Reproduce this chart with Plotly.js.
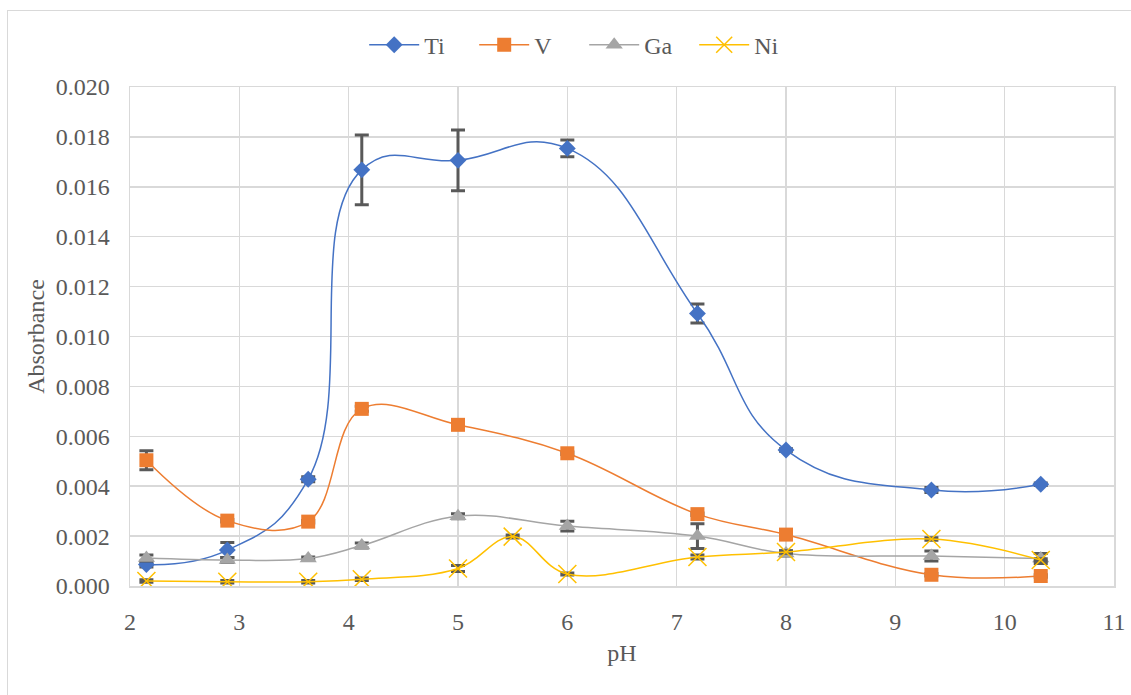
<!DOCTYPE html>
<html>
<head>
<meta charset="utf-8">
<script src="https://cdn.plot.ly/plotly-3.0.1.min.js"></script>
<style>
  html, body { margin: 0; padding: 0; background: #ffffff; overflow: hidden; }
  #wrap { position: relative; width: 1131px; height: 695px; overflow: hidden; }
  #chart { position: absolute; left: 0; top: 0; width: 1131px; height: 695px; }
  #frame { position: absolute; left: 7px; top: 10px; width: 1200px; height: 800px;
           border: 1.5px solid #d9d9d9; box-sizing: border-box; pointer-events: none; }
  svg text { font-family: 'Liberation Serif', 'Times New Roman', serif !important; }
</style>
</head>
<body>
<div id="wrap">
  <div id="chart"></div>
  <div id="frame"></div>
</div>
<script>
// ---- data ----
const tiPH  = [2.15, 2.89, 3.63, 4.12, 5.0, 6.0, 7.19, 8.0, 9.33, 10.33];
const tiAbs = [0.00086, 0.00144, 0.00428, 0.01668, 0.01706, 0.01754, 0.01092, 0.00545, 0.00385, 0.00408];
const tiErr = [0.0001, 0.0003, 0.0001, 0.0014, 0.00122, 0.00034, 0.00038, 0.00005, 0.0001, 0.00005];

const vPH  = [2.15, 2.89, 3.63, 4.12, 5.0, 6.0, 7.19, 8.0, 9.33, 10.33];
const vAbs = [0.00504, 0.00262, 0.00258, 0.0071, 0.00646, 0.00532, 0.00288, 0.00206, 0.00045, 0.0004];
const vErr = [0.00038, 0.00005, 0.00005, 0.0001, 0.0001, 0.00005, 0.00005, 0.00005, 0.00005, 0.00005];

const gaPH  = [2.15, 2.89, 3.63, 4.12, 5.0, 6.0, 7.19, 8.0, 9.33, 10.33];
const gaAbs = [0.00112, 0.00104, 0.0011, 0.00162, 0.0028, 0.0024, 0.002, 0.0013, 0.0012, 0.0011];
const gaErr = [0.00012, 0.0001, 0.00006, 0.0001, 0.0001, 0.0002, 0.0005, 0.0001, 0.0002, 0.0002];

const niPH  = [2.15, 2.89, 3.63, 4.12, 5.0, 5.5, 6.0, 7.19, 8.0, 9.33, 10.33];
const niAbs = [0.0002, 0.00017, 0.00017, 0.00027, 0.0007, 0.00198, 0.00048, 0.00116, 0.00136, 0.00188, 0.00104];
const niErr = [0.00005, 0.00005, 0.00005, 0.00005, 0.00012, 0.00006, 0.00004, 0.00008, 0.00005, 0.00005, 0.00005];

const seriesNames = ['Ti', 'V', 'Ga', 'Ni'];
const xTickVals = [2, 3, 4, 5, 6, 7, 8, 9, 10, 11];
const yTickVals = [0, 0.002, 0.004, 0.006, 0.008, 0.010, 0.012, 0.014, 0.016, 0.018, 0.020];

const FONT = 'Liberation Serif';
const TXT = '#595959';
const ERRC = '#595959';

function errObj(arr) {
  return { type: 'data', array: arr, visible: true, color: ERRC, thickness: 3, width: 7 };
}

const traces = [
  { x: tiPH, y: tiAbs, name: seriesNames[0], type: 'scatter', mode: 'lines+markers',
    line: { color: '#4472C4', width: 1.5, shape: 'spline', smoothing: 1.3 },
    marker: { symbol: 'diamond', size: 13, color: '#4472C4' },
    error_y: errObj(tiErr) },
  { x: vPH, y: vAbs, name: seriesNames[1], type: 'scatter', mode: 'lines+markers',
    line: { color: '#ED7D31', width: 1.5, shape: 'spline', smoothing: 1.1 },
    marker: { symbol: 'square', size: 14, color: '#ED7D31' },
    error_y: errObj(vErr) },
  { x: gaPH, y: gaAbs, name: seriesNames[2], type: 'scatter', mode: 'lines+markers',
    line: { color: '#A5A5A5', width: 1.5, shape: 'spline', smoothing: 1.1 },
    marker: { symbol: 'triangle-up', size: 15, color: '#A5A5A5' },
    error_y: errObj(gaErr) },
  { x: niPH, y: niAbs, name: seriesNames[3], type: 'scatter', mode: 'lines+markers',
    line: { color: '#FFC000', width: 1.5, shape: 'spline', smoothing: 1.1 },
    marker: { symbol: 'x-thin', size: 18, color: '#FFC000', line: { color: '#FFC000', width: 1.5 } },
    error_y: errObj(niErr) }
];

const layout = {
  width: 1131, height: 695,
  paper_bgcolor: 'rgba(0,0,0,0)', plot_bgcolor: '#ffffff',
  margin: { l: 130, r: 17, t: 87, b: 109 },
  font: { family: FONT, size: 24, color: TXT },
  showlegend: true,
  legend: {
    orientation: 'h', x: 0.238, xanchor: 'left', y: 1.084, yanchor: 'middle',
    font: { family: FONT, size: 24, color: TXT }, itemwidth: 50, entrywidth: 45,
    traceorder: 'normal', bgcolor: 'rgba(0,0,0,0)'
  },
  xaxis: {
    range: [2, 11], tickvals: xTickVals, ticktext: xTickVals.map(String),
    showgrid: true, gridcolor: '#d9d9d9', gridwidth: 1.5,
    showline: true, linecolor: '#d9d9d9', linewidth: 1.5, mirror: true,
    zeroline: false, ticks: '', ticklabelstandoff: 14,
    tickfont: { family: FONT, size: 24, color: TXT },
    title: { text: 'pH', font: { family: FONT, size: 24, color: TXT }, standoff: 10 }
  },
  yaxis: {
    range: [0, 0.020], tickvals: yTickVals, ticktext: yTickVals.map(v => v.toFixed(3)),
    showgrid: true, gridcolor: '#d9d9d9', gridwidth: 1.5,
    showline: true, linecolor: '#d9d9d9', linewidth: 1.5, mirror: true,
    zeroline: false, ticks: '', ticklabelstandoff: 14,
    tickfont: { family: FONT, size: 24, color: TXT },
    title: { text: 'Absorbance', font: { family: FONT, size: 24, color: TXT }, standoff: 4 }
  }
};

Plotly.newPlot('chart', traces, layout, { displayModeBar: false, staticPlot: true });
</script>
</body>
</html>
